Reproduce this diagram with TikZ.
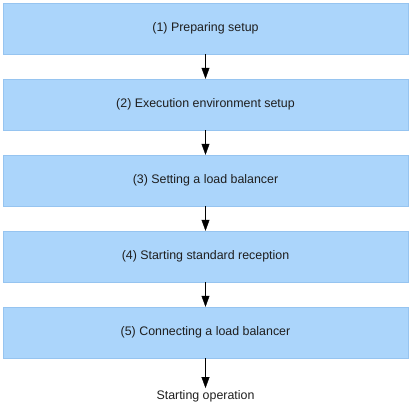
\documentclass[tikz,border=0pt]{standalone}
\usepackage{fontspec}
\setmainfont{Liberation Sans}
\usetikzlibrary{arrows.meta}

\begin{document}
\begin{tikzpicture}[x=1pt,y=1pt]
            \tikzstyle{stepbox}=[draw={rgb,255:red,150;green,196;blue,240}, fill={rgb,255:red,171;green,213;blue,251}, minimum width=405pt, minimum height=51pt, inner sep=0pt, text={rgb,255:red,30;green,30;blue,30}, font=\fontsize{12.4}{14}\selectfont]
            \tikzstyle{flow}=[black, -{Triangle[length=11pt,width=8pt]}]
            \useasboundingbox (0,0) rectangle (411,-407);
            \node [stepbox] (s1) at (205.5,-28.5) {(1) Preparing setup};
            \node [stepbox] (s2) at (205.5,-104.5) {(2) Execution environment setup};
            \node [stepbox] (s3) at (205.5,-180.5) {(3) Setting a load balancer};
            \node [stepbox] (s4) at (205.5,-256.5) {(4) Starting standard reception};
            \node [stepbox] (s5) at (205.5,-332.5) {(5) Connecting a load balancer};
            \node [inner sep=2pt, text={rgb,255:red,30;green,30;blue,30}, font=\fontsize{12.4}{14}\selectfont] (op) at (205.5,-396) {Starting operation};
            \draw [flow] (s1) -- (s2);
            \draw [flow] (s2) -- (s3);
            \draw [flow] (s3) -- (s4);
            \draw [flow] (s4) -- (s5);
            \draw [flow] (s5) -- (op);
\end{tikzpicture}
\end{document}
